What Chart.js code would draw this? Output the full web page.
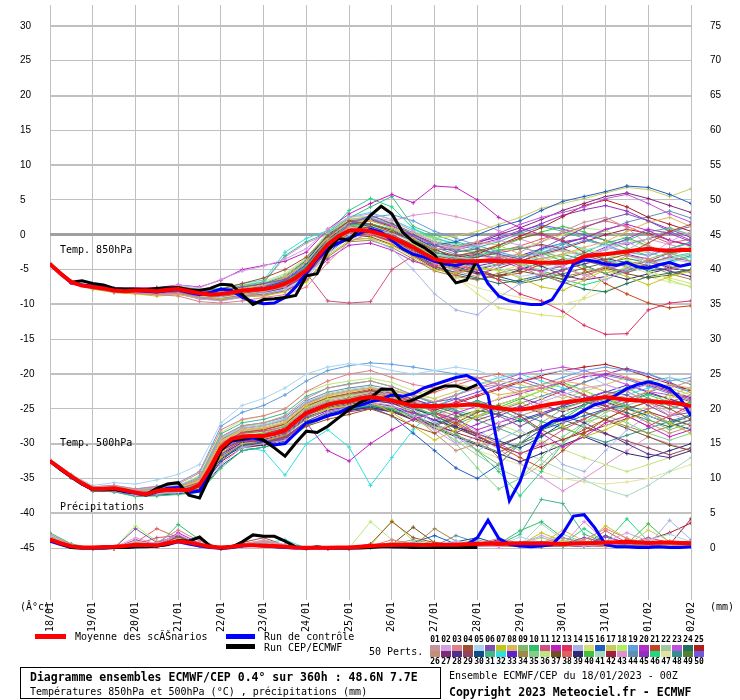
<!DOCTYPE html>
<html lang="fr">
<head>
<meta charset="UTF-8">
<title>Diagramme ensembles ECMWF/CEP</title>
<script src="https://cdn.jsdelivr.net/npm/chart.js"></script>
<style>
    body { margin: 0; background: #fff; }
    #wrap { position: relative; width: 740px; height: 700px; overflow: hidden;
        font-family: "DejaVu Sans Mono", monospace; font-size: 10px; color: #000; }
    #wrap canvas { position: absolute; left: 0; top: 0; }
    .t { position: absolute; white-space: pre; line-height: 12px; }
    .b { font-weight: bold; font-size: 11.5px; }
    .bar { position: absolute; height: 5px; }
    .sw { position: absolute; width: 10px; height: 6px; }
    .num { position: absolute; font-size: 8px; font-weight: bold; line-height: 10px; width: 11px; text-align: center; }
    #box { position: absolute; left: 20px; top: 667px; width: 419px; height: 30px; border: 1px solid #000; }
</style>
</head>
<body>
<div id="wrap">
    <canvas id="c" width="740" height="700"></canvas>
    <div class="t" style="left:60px;top:244px">Temp. 850hPa</div>
    <div class="t" style="left:60px;top:437px">Temp. 500hPa</div>
    <div class="t" style="left:60px;top:501px">Précipitations</div>
    <div class="t" style="left:20px;top:601px">(Â°c)</div>
    <div class="t" style="left:710px;top:601px">(mm)</div>

    <div class="bar" style="left:35px;top:634px;width:31px;background:#f00"></div>
    <div class="t" style="left:75px;top:631px">Moyenne des scĂŠnarios</div>
    <div class="bar" style="left:226px;top:634px;width:29px;background:#00f"></div>
    <div class="t" style="left:264px;top:631px">Run de contrôle</div>
    <div class="bar" style="left:226px;top:644px;width:29px;background:#000"></div>
    <div class="t" style="left:264px;top:642px">Run CEP/ECMWF</div>
    <div class="t" style="left:369px;top:646px">50 Perts.</div>
    <div id="swatches"></div>

    <div id="box"></div>
    <div class="t b" style="left:30px;top:671px">Diagramme ensembles ECMWF/CEP 0.4° sur 360h : 48.6N 7.7E</div>
    <div class="t" style="left:30px;top:686px">Températures 850hPa et 500hPa (°C) , précipitations (mm)</div>
    <div class="t" style="left:449px;top:670px">Ensemble ECMWF/CEP du 18/01/2023 - 00Z</div>
    <div class="t b" style="left:449px;top:686px">Copyright 2023 Meteociel.fr - ECMWF</div>
</div>
<script>
    // axis labels
    const dateLabels = ['18/01','19/01','20/01','21/01','22/01','23/01','24/01','25/01','26/01','27/01','28/01','29/01','30/01','31/01','01/02','02/02'];

    // forecast hours
    const hours6 = [0,6,12,18,24,30,36,42,48,54,60,66,72,78,84,90,96,102,108,114,120,126,132,138,144,150,156,162,168,174,180,186,192,198,204,210,216,222,228,234,240,246,252,258,264,270,276,282,288,294,300,306,312,318,324,330,336,342,348,354,360];
    const hours12 = [0,12,24,36,48,60,72,84,96,108,120,132,144,156,168,180,192,204,216,228,240,252,264,276,288,300,312,324,336,348,360];

    // 850 hPa temperature (°C)
    const mean850 = [-4.2,-5.6,-6.8,-7.3,-7.5,-7.7,-8.0,-8.1,-8.0,-8.0,-8.1,-7.9,-7.8,-8.1,-8.4,-8.6,-8.5,-8.3,-8.0,-7.9,-7.8,-7.5,-7.0,-6.2,-5.1,-3.2,-1.4,-0.2,0.6,0.7,0.5,0.1,-0.4,-1.1,-1.8,-2.7,-3.5,-3.8,-3.8,-3.8,-3.8,-3.7,-3.8,-3.8,-3.8,-3.9,-4.0,-4.0,-4.0,-3.8,-3.1,-2.9,-2.8,-2.6,-2.4,-2.2,-2.0,-2.2,-2.3,-2.2,-2.2];
    const ctrl850 = [-4.2,-5.6,-6.9,-7.2,-7.4,-7.6,-7.9,-8.0,-8.0,-8.1,-8.2,-8.0,-7.9,-8.3,-8.6,-8.3,-7.8,-8.0,-9.0,-9.6,-9.9,-9.8,-9.0,-7.5,-5.5,-3.5,-2.0,-1.2,-0.5,0.2,0.8,0.4,-0.8,-2.0,-2.8,-3.2,-3.8,-4.2,-4.4,-4.0,-4.2,-7.0,-8.8,-9.5,-9.8,-10.0,-10.0,-9.3,-7.0,-4.2,-3.6,-3.8,-4.2,-4.4,-4.0,-4.6,-4.8,-4.3,-4.0,-4.5,-4.2];
    const hres850 = [-4.2,-5.5,-6.8,-6.6,-7.0,-7.2,-7.7,-7.8,-7.8,-7.9,-7.7,-7.6,-7.6,-7.9,-8.0,-7.7,-7.1,-7.2,-8.6,-10.0,-9.3,-9.2,-9.0,-8.7,-5.9,-5.6,-2.3,-0.5,-0.8,1.0,2.8,4.1,3.0,0.4,-1.0,-1.8,-2.9,-5.0,-6.9,-6.5,-3.6];

    // 500 hPa temperature (°C)
    const mean500 = [-32.5,-33.6,-34.7,-35.7,-36.5,-36.5,-36.4,-36.7,-37.0,-37.3,-36.8,-36.6,-36.6,-36.7,-35.9,-33.5,-30.6,-29.3,-29.0,-28.9,-28.9,-28.6,-28.1,-26.8,-25.6,-25.0,-24.4,-24.1,-23.9,-23.5,-23.3,-23.5,-23.8,-24.2,-24.6,-24.6,-24.6,-24.5,-24.5,-24.4,-24.4,-24.7,-24.9,-25.1,-25.1,-24.9,-24.6,-24.3,-24.1,-23.9,-23.7,-23.5,-23.3,-23.5,-23.7,-23.8,-23.9,-24.0,-24.1,-24.3,-24.6];
    const ctrl500 = [-32.5,-33.7,-34.8,-35.8,-36.5,-36.6,-36.5,-36.9,-37.1,-37.4,-36.9,-36.4,-36.3,-37.0,-36.8,-34.0,-30.8,-29.6,-29.4,-29.2,-29.6,-30.2,-30.0,-28.5,-27.0,-26.6,-26.0,-25.6,-24.8,-24.5,-24.0,-23.6,-23.0,-23.2,-22.8,-22.0,-21.5,-21.0,-20.5,-20.2,-21.0,-23.0,-31.0,-38.2,-35.4,-31.0,-27.8,-26.8,-26.5,-26.1,-25.2,-24.4,-24.0,-23.0,-22.1,-21.5,-21.1,-21.5,-22.1,-23.5,-26.0];
    const hres500 = [-32.5,-33.7,-34.8,-35.8,-36.6,-36.6,-36.6,-36.8,-37.0,-37.3,-36.4,-35.8,-35.6,-37.4,-37.8,-34.5,-31.0,-29.5,-29.3,-28.9,-29.5,-30.6,-31.8,-29.9,-28.2,-28.4,-27.5,-26.3,-25.1,-24.1,-23.4,-22.2,-22.2,-24.2,-23.7,-23.0,-22.2,-21.7,-21.7,-22.2,-21.5];

    // precipitation (mm, right axis)
    const meanPrecip = [1.2,0.7,0.25,0.1,0.1,0.15,0.2,0.3,0.5,0.45,0.4,0.7,1.0,0.8,0.5,0.2,0.1,0.2,0.4,0.4,0.35,0.3,0.2,0.1,0.05,0.05,0.05,0.1,0.1,0.2,0.3,0.4,0.45,0.5,0.5,0.45,0.5,0.5,0.5,0.55,0.6,0.65,0.6,0.65,0.7,0.7,0.7,0.65,0.6,0.65,0.7,0.75,0.8,0.85,0.9,0.8,0.75,0.8,0.8,0.75,0.7];
    const ctrlPrecip = [1.0,0.5,0.1,0,0,0,0.1,0.1,0.2,0.3,0.3,0.5,0.9,0.6,0.3,0.1,0,0.1,0.3,0.4,0.3,0.2,0.1,0,0,0,0,0,0,0.1,0.2,0.3,0.2,0.2,0.3,0.2,0.2,0.3,0.4,0.5,1.5,4.0,1.4,0.5,0.3,0.2,0.3,0.5,2.1,4.6,4.8,2.9,0.5,0.2,0.2,0.1,0.1,0.2,0.1,0.1,0.2];
    const hresPrecip = [1.2,0.6,0.1,0,0,0,0.1,0.1,0.2,0.2,0.3,0.5,1.1,1.0,1.6,0.3,0,0.1,0.9,1.9,1.7,1.7,1.0,0.2,0,0.2,0,0,0,0,0.1,0.2,0.2,0.15,0.1,0.1,0.1,0.1,0.1,0.1,0.1];

    // the 50 perturbed members, 12-hourly
    const t850Members = [
        [-4.1,-6.9,-7.6,-8.2,-8.3,-8.5,-8.4,-9.0,-9.4,-8.8,-8.2,-7.5,-5.0,-1.0,1.2,0.8,-0.5,-2.0,-3.9,-5.2,-6.0,-4.2,-2.5,-1.0,0.5,1.8,2.5,1.0,-1.5,-3.0,-2.0],
        [-4.2,-6.7,-7.4,-7.8,-7.6,-7.9,-7.2,-7.6,-6.4,-5.2,-4.5,-3.5,-2.0,0.8,2.5,3.0,2.2,0.5,-1.2,-2.0,-1.5,-0.8,-1.5,-3.0,-4.5,-5.8,-6.5,-5.0,-3.0,-1.0,0.5],
        [-4.3,-6.8,-7.7,-8.1,-8.4,-8.6,-8.8,-9.6,-9.8,-9.5,-9.0,-8.6,-7.5,-4.0,-1.0,0.2,-0.8,-2.5,-4.2,-5.0,-4.0,-3.0,-3.8,-5.5,-7.0,-6.2,-4.5,-3.0,-3.5,-5.0,-4.2],
        [-4.2,-6.9,-7.4,-7.9,-7.8,-7.6,-7.4,-8.0,-7.8,-7.0,-6.2,-5.0,-3.2,-0.2,2.0,1.5,0.4,-0.8,-2.2,-3.0,-2.4,-1.5,-0.5,0.2,-0.8,-2.5,-3.6,-2.8,-1.2,0.5,1.5],
        [-4.1,-6.7,-7.6,-8.0,-8.2,-8.2,-8.0,-8.8,-9.0,-8.6,-8.4,-7.8,-6.0,-2.5,0.0,0.8,0.2,-1.0,-2.8,-3.2,-3.6,-4.8,-6.0,-5.5,-4.0,-2.2,-1.5,-2.8,-4.2,-3.5,-2.6],
        [-4.2,-6.8,-7.5,-8.1,-8.1,-8.3,-8.0,-8.2,-8.0,-7.5,-7.0,-6.4,-4.8,-1.5,1.5,2.8,1.6,0.0,-1.5,-2.5,-2.0,-2.8,-3.5,-2.0,-0.5,1.0,2.2,3.0,2.0,0.5,-0.8],
        [-4.2,-6.9,-7.8,-8.3,-8.5,-8.8,-8.6,-9.0,-9.2,-8.8,-8.8,-8.2,-6.8,-3.0,-0.8,-0.5,-1.5,-3.2,-5.0,-5.5,-4.8,-5.0,-6.2,-7.5,-8.0,-6.5,-5.0,-6.0,-7.2,-6.0,-5.2],
        [-4.2,-6.8,-7.4,-7.8,-7.9,-7.8,-7.5,-7.9,-8.2,-7.8,-7.2,-6.0,-3.8,-0.5,1.8,2.0,1.0,-0.5,-2.0,-1.8,-1.0,-1.5,-2.8,-3.5,-2.8,-1.8,-1.0,0.5,1.8,2.5,1.2],
        [-4.3,-6.8,-7.6,-8.0,-8.1,-8.2,-8.1,-8.6,-8.8,-8.2,-7.9,-7.2,-5.5,-1.8,0.5,0.2,-0.6,-1.5,-3.0,-4.0,-4.8,-4.2,-3.0,-2.5,-3.2,-4.5,-5.5,-4.8,-3.5,-2.5,-3.8],
        [-4.2,-6.7,-7.5,-7.9,-7.9,-8.0,-7.8,-8.3,-8.6,-8.1,-7.7,-6.8,-4.5,-0.8,1.4,1.6,0.8,-0.6,-2.4,-3.5,-3.0,-2.2,-1.8,-2.6,-3.8,-2.6,-1.2,-0.4,-1.6,-2.8,-1.8],
        [-4.2,-6.8,-7.6,-8.2,-8.3,-8.4,-8.3,-8.9,-9.2,-8.8,-8.5,-7.8,-5.5,-9.5,-9.8,-9.6,-5.0,-3.0,-4.5,-5.8,-4.0,-3.2,-4.5,-6.0,-5.2,-3.8,-4.4,-5.5,-4.0,-3.2,-3.8],
        [-4.2,-6.8,-7.4,-7.7,-7.6,-7.6,-7.2,-7.5,-6.5,-5.0,-4.4,-3.8,-2.5,0.8,3.0,4.5,5.8,4.6,7.0,6.8,5.0,2.5,1.0,0.0,-1.0,-0.5,0.8,1.5,0.6,-0.8,-1.5],
        [-4.2,-6.9,-7.6,-8.1,-8.2,-8.3,-8.2,-8.7,-8.9,-8.4,-8.0,-7.4,-5.8,-2.2,0.2,0.0,-1.0,-2.6,-4.0,-4.5,-5.0,-6.5,-8.5,-9.5,-11.0,-13.0,-14.3,-14.2,-10.8,-9.8,-9.5],
        [-4.3,-6.9,-7.7,-8.3,-8.4,-8.6,-8.5,-9.2,-9.5,-9.0,-8.6,-7.9,-6.2,-2.8,-0.4,-0.6,-2.0,-5.0,-8.5,-10.8,-11.5,-9.0,-7.0,-5.5,-4.0,-3.2,-2.0,-1.0,-2.5,-3.5,-4.0],
        [-4.2,-6.7,-7.5,-8.0,-8.0,-8.2,-8.0,-8.5,-8.7,-8.3,-8.0,-7.3,-5.6,-2.0,0.3,0.0,-1.2,-2.8,-4.0,-6.0,-8.5,-10.5,-11.0,-11.5,-11.8,-9.0,-6.0,-4.5,-5.5,-6.2,-7.0],
        [-4.2,-6.8,-7.5,-8.0,-8.0,-8.1,-7.9,-8.5,-8.6,-8.0,-7.6,-6.6,-4.2,-0.5,1.8,1.2,0.2,-0.8,-1.5,-1.0,0.0,1.2,2.0,3.5,4.8,5.5,6.2,7.0,6.8,5.8,4.5],
        [-4.1,-6.7,-7.4,-7.8,-7.9,-8.0,-7.7,-8.1,-8.2,-7.6,-7.2,-6.2,-4.0,-0.2,2.2,2.0,1.0,0.2,-0.5,-0.2,0.5,1.5,2.5,3.8,4.5,5.2,6.0,6.8,6.5,5.5,6.6],
        [-4.2,-6.8,-7.6,-8.1,-8.2,-8.4,-8.3,-8.9,-9.0,-8.5,-8.1,-7.2,-5.0,-1.2,1.0,1.3,0.5,-1.3,-3.2,-4.2,-4.6,-5.2,-4.4,-3.8,-3.0,-2.0,-2.8,-3.6,-5.0,-6.5,-7.5],
        [-4.2,-6.8,-7.5,-7.9,-8.0,-8.1,-7.7,-8.2,-8.3,-7.7,-7.3,-6.5,-4.4,-0.9,1.6,2.5,2.9,2.0,0.5,-0.5,-1.5,-2.5,-3.2,-2.6,-1.8,-0.8,-1.5,-2.5,-3.0,-2.0,-1.2],
        [-4.3,-6.9,-7.7,-8.2,-8.3,-8.5,-8.4,-9.1,-9.3,-8.9,-8.6,-8.0,-6.5,-3.5,-1.5,-1.2,-2.2,-3.8,-4.6,-3.8,-2.8,-3.5,-4.8,-5.2,-4.5,-3.0,-1.8,-0.6,0.8,0.2,-1.0],
        [-4.2,-6.8,-7.5,-8.0,-8.1,-8.3,-8.1,-8.6,-8.8,-8.3,-7.9,-7.0,-4.8,-1.4,0.8,0.5,-0.6,-2.2,-3.5,-4.2,-5.0,-6.0,-5.5,-4.2,-3.5,-5.0,-7.0,-8.5,-9.8,-10.5,-10.2],
        [-4.2,-6.7,-7.5,-7.9,-7.9,-8.0,-7.7,-8.1,-8.0,-7.4,-6.9,-5.8,-3.5,0.2,2.2,2.5,1.5,0.2,-1.0,-1.8,-2.5,-3.5,-4.0,-3.0,-2.2,-2.8,-3.5,-2.2,-0.5,0.8,0.0],
        [-4.2,-6.8,-7.6,-8.0,-8.1,-8.2,-8.0,-8.4,-8.5,-7.9,-7.5,-6.4,-4.0,-0.3,1.9,2.3,1.3,-0.2,-1.6,-2.0,-1.0,0.2,1.5,2.5,3.2,4.0,5.2,5.8,4.5,3.0,1.8],
        [-4.2,-6.9,-7.6,-8.1,-8.2,-8.4,-8.2,-8.7,-8.9,-8.5,-8.2,-7.5,-5.6,-2.3,0.0,0.4,-0.5,-2.5,-4.5,-5.5,-6.2,-7.0,-6.5,-5.8,-6.8,-7.8,-8.2,-7.0,-6.0,-5.5,-5.0],
        [-4.2,-6.8,-7.5,-8.0,-8.0,-8.1,-7.8,-8.3,-8.4,-7.9,-7.5,-6.6,-4.3,-0.6,1.5,1.6,0.6,-1.0,-2.5,-3.2,-2.8,-1.5,-0.2,1.0,2.6,4.2,5.0,4.0,2.5,1.5,0.5],
        [-4.2,-6.8,-7.6,-8.1,-8.2,-8.3,-8.1,-8.7,-8.9,-8.4,-8.0,-7.3,-5.2,-1.6,0.6,0.9,-0.2,-1.8,-3.6,-4.4,-3.8,-3.2,-2.8,-3.5,-4.8,-5.8,-5.0,-4.2,-3.8,-4.5,-5.5],
        [-4.1,-6.7,-7.5,-8.0,-8.0,-8.2,-7.9,-8.3,-8.4,-7.8,-7.4,-6.5,-4.4,-0.8,1.6,2.0,1.2,0.0,-1.2,-1.8,-1.2,0.0,1.0,2.2,3.5,4.5,5.5,6.0,5.2,4.2,3.2],
        [-4.2,-6.9,-7.7,-8.2,-8.3,-8.5,-8.3,-8.8,-9.0,-8.6,-8.3,-7.6,-5.9,-2.6,-0.2,0.2,-0.9,-2.8,-4.6,-5.4,-5.0,-4.2,-3.6,-4.5,-5.8,-6.5,-6.0,-5.0,-4.4,-5.2,-6.0],
        [-4.2,-6.8,-7.5,-8.0,-8.1,-8.2,-8.0,-8.5,-8.6,-8.1,-7.7,-6.9,-4.7,-1.0,1.2,1.0,0.0,-1.4,-3.0,-3.6,-3.2,-2.6,-2.0,-1.4,-2.0,-3.0,-3.8,-4.6,-3.8,-2.6,-2.0],
        [-4.2,-6.8,-7.5,-7.9,-8.0,-8.0,-7.8,-8.2,-8.2,-7.6,-7.1,-6.0,-3.7,0.0,2.0,2.2,1.3,-0.2,-2.0,-3.5,-5.0,-6.0,-6.8,-6.0,-5.0,-4.2,-3.4,-4.0,-5.2,-4.8,-4.0],
        [-4.2,-6.7,-7.4,-7.8,-7.8,-7.9,-7.6,-8.0,-8.0,-7.3,-6.8,-3.0,-1.0,0.3,2.4,4.0,5.5,1.2,0.0,-1.0,-1.8,-1.0,0.2,1.2,0.5,-0.5,-1.5,-0.8,0.4,1.0,0.0],
        [-4.2,-6.8,-7.3,-7.7,-7.7,-7.8,-7.4,-7.8,-7.7,-7.0,-6.5,-2.5,-0.5,0.6,2.6,3.2,2.2,0.8,-0.6,-1.2,-2.0,-2.8,-3.2,-2.2,-1.2,-2.0,-3.5,-4.5,-5.0,-4.0,-3.2],
        [-4.2,-6.8,-7.6,-8.1,-8.2,-8.3,-8.2,-8.7,-8.8,-8.3,-7.9,-7.1,-5.0,-1.3,0.9,0.6,-0.4,-2.0,-3.5,-4.0,-4.5,-3.8,-3.0,-2.0,-1.2,-0.5,-1.5,-2.8,-3.5,-4.8,-5.2],
        [-4.3,-6.9,-7.7,-8.2,-8.4,-8.6,-8.5,-9.2,-9.4,-9.0,-8.7,-8.1,-6.6,-3.2,-1.0,-0.8,-1.8,-3.5,-5.2,-6.0,-6.5,-5.5,-4.8,-5.2,-6.0,-5.4,-4.6,-3.8,-4.4,-5.6,-6.4],
        [-4.2,-6.8,-7.5,-8.0,-8.0,-8.1,-7.9,-8.4,-8.5,-8.0,-7.6,-6.7,-4.6,-0.9,1.3,1.4,0.4,-1.2,-2.8,-3.4,-3.6,-3.8,-4.2,-4.6,-4.0,-3.2,-2.6,-3.0,-3.8,-3.4,-2.8],
        [-4.2,-6.7,-7.4,-7.8,-7.7,-7.8,-7.5,-7.9,-7.9,-7.2,-6.7,-5.6,-3.3,0.4,2.5,2.7,1.8,0.6,-0.8,-1.4,-1.8,-2.2,-2.0,-1.0,0.0,1.0,0.6,-0.6,-1.8,-2.4,-1.6],
        [-4.2,-6.9,-7.6,-8.1,-8.2,-8.4,-8.3,-8.8,-9.0,-8.6,-8.2,-7.5,-5.7,-2.2,0.0,-0.3,-1.4,-3.0,-4.8,-5.8,-6.4,-5.8,-5.2,-5.8,-6.4,-5.5,-4.8,-5.6,-6.2,-5.8,-5.0],
        [-4.2,-6.8,-7.5,-8.0,-8.1,-8.2,-8.0,-8.5,-8.6,-8.1,-7.8,-7.0,-4.9,-1.2,1.1,1.2,0.1,-1.6,-3.2,-3.8,-3.2,-2.4,-1.6,-0.6,0.2,1.2,2.0,1.2,0.0,-1.2,-0.6],
        [-4.2,-6.8,-7.6,-8.1,-8.2,-8.4,-8.2,-8.8,-9.0,-8.6,-8.3,-7.6,-5.8,-2.0,0.3,0.6,-0.5,-2.2,-3.8,-4.6,-5.4,-6.0,-5.0,-4.0,-3.6,-4.4,-5.6,-6.4,-5.6,-4.8,-5.2],
        [-4.2,-6.7,-7.5,-7.9,-8.0,-8.0,-7.8,-8.2,-8.3,-7.7,-7.2,-6.2,-3.9,-0.2,2.0,2.3,1.5,0.1,-1.4,-2.2,-2.6,-1.8,-0.6,0.4,1.2,0.4,-0.8,-2.0,-3.0,-2.0,-1.0],
        [-4.2,-6.8,-7.5,-8.0,-8.1,-8.2,-8.0,-8.5,-8.7,-8.2,-7.8,-6.9,-4.7,-1.1,1.1,1.0,0.0,-1.5,-3.0,-3.4,-3.0,-3.6,-4.4,-5.0,-4.4,-3.6,-2.8,-2.0,-2.6,-3.4,-2.8],
        [-4.2,-6.9,-7.7,-8.2,-8.3,-8.5,-8.4,-9.0,-9.2,-8.7,-8.4,-7.7,-5.9,-2.4,-0.1,0.1,-1.0,-2.7,-4.3,-5.0,-5.6,-4.8,-3.8,-2.8,-2.0,-1.0,0.0,0.8,0.2,-0.8,-1.6],
        [-4.2,-6.8,-7.4,-7.8,-7.8,-7.9,-7.6,-8.0,-8.0,-7.4,-6.9,-3.2,-1.2,0.1,2.2,2.6,2.0,2.8,3.2,2.6,1.8,0.6,-0.6,-1.6,-2.4,-3.0,-2.2,-1.2,-0.6,-1.4,-2.2],
        [-4.2,-6.8,-7.5,-8.0,-8.0,-8.1,-7.9,-8.4,-8.4,-7.8,-7.3,-6.3,-4.0,-0.4,1.9,2.1,1.0,-0.4,-1.8,-2.8,-3.6,-4.4,-3.8,-2.6,-1.4,-0.4,0.6,1.8,2.6,3.4,2.4],
        [-4.2,-6.8,-7.6,-8.1,-8.1,-8.3,-8.1,-8.6,-8.7,-8.2,-7.8,-6.9,-4.6,-0.9,1.3,1.5,0.7,-0.7,-2.0,-2.2,-1.4,-0.6,0.4,1.6,2.8,3.6,4.2,3.4,2.0,0.8,-0.4],
        [-4.2,-6.7,-7.4,-7.8,-7.8,-7.9,-7.6,-8.1,-8.1,-7.5,-7.0,-6.0,-3.6,0.2,3.5,5.2,4.0,0.9,-0.4,-1.4,-2.2,-3.0,-4.2,-5.4,-6.4,-7.2,-6.4,-5.2,-4.2,-3.2,-2.6],
        [-4.3,-6.9,-7.7,-8.2,-8.3,-8.5,-8.4,-9.0,-9.1,-8.6,-8.2,-7.4,-5.4,-1.8,0.4,0.2,-1.0,-2.8,-4.6,-6.2,-7.6,-8.4,-9.0,-9.6,-10.0,-9.2,-8.0,-7.0,-6.0,-6.8,-7.4],
        [-4.2,-6.8,-7.5,-8.0,-8.1,-8.2,-8.0,-8.5,-8.6,-8.0,-7.6,-6.8,-4.6,-1.0,1.2,1.4,0.5,-1.0,-2.6,-3.0,-2.6,-3.4,-4.0,-3.4,-2.8,-3.6,-4.6,-5.4,-4.6,-3.8,-3.0],
        [-4.2,-6.9,-7.6,-8.1,-8.2,-8.4,-8.2,-8.8,-8.9,-8.4,-8.0,-7.3,-5.3,-1.7,0.5,0.3,-0.8,-2.4,-4.0,-4.8,-5.6,-6.4,-7.0,-6.4,-5.6,-4.8,-4.0,-3.4,-4.0,-4.6,-5.4],
        [-4.2,-6.8,-7.5,-7.9,-7.9,-8.0,-7.7,-8.2,-8.2,-7.6,-7.1,-6.1,-3.8,0.0,2.1,2.4,1.6,0.3,-1.0,-1.6,-1.0,-0.4,0.6,1.4,0.8,0.0,-0.8,-1.4,-0.6,0.4,1.2]
    ];

    const t500Members = [
        [-32.4,-34.6,-36.3,-36.2,-36.8,-36.5,-36.2,-35.0,-29.0,-27.5,-27.0,-26.0,-23.5,-22.0,-21.5,-21.0,-21.8,-23.0,-24.0,-23.0,-22.0,-21.5,-23.0,-25.5,-27.0,-25.0,-23.0,-22.5,-24.0,-26.0,-25.0],
        [-32.6,-34.9,-36.7,-36.8,-37.4,-37.2,-37.0,-36.8,-33.0,-30.5,-30.0,-29.5,-27.0,-25.5,-24.8,-24.0,-24.5,-26.0,-28.0,-30.0,-29.0,-27.0,-25.5,-24.0,-23.0,-22.0,-21.5,-22.5,-24.0,-25.5,-27.0],
        [-32.3,-34.5,-36.2,-36.0,-36.5,-36.2,-35.8,-34.2,-28.0,-26.5,-26.0,-25.0,-22.5,-21.0,-20.0,-19.5,-20.5,-21.5,-22.0,-21.0,-20.5,-21.5,-22.5,-22.0,-21.0,-20.0,-19.5,-20.5,-21.5,-22.0,-21.0],
        [-32.5,-34.8,-36.6,-36.6,-37.2,-37.0,-36.8,-36.2,-31.5,-29.5,-29.8,-29.0,-27.5,-26.5,-25.8,-25.0,-26.0,-27.5,-28.5,-27.0,-25.5,-24.5,-26.0,-28.0,-29.5,-28.0,-26.5,-25.0,-24.0,-25.0,-26.5],
        [-32.2,-34.4,-36.0,-35.6,-35.8,-35.2,-34.4,-33.0,-27.0,-24.5,-23.5,-22.0,-20.0,-19.0,-18.5,-18.8,-19.5,-20.0,-19.5,-19.0,-19.5,-20.5,-21.0,-20.0,-19.5,-20.0,-21.5,-22.5,-21.5,-20.5,-21.0],
        [-32.5,-34.7,-36.5,-36.5,-37.0,-36.9,-36.7,-36.0,-30.8,-29.2,-29.0,-28.5,-26.0,-24.5,-24.0,-23.5,-24.0,-24.5,-24.0,-23.5,-24.5,-26.0,-27.5,-26.0,-24.5,-23.5,-22.5,-23.0,-24.5,-26.0,-25.5],
        [-32.6,-34.8,-36.6,-36.7,-37.3,-37.1,-36.9,-36.4,-32.0,-30.0,-29.6,-28.8,-26.5,-25.0,-24.5,-24.0,-25.5,-27.5,-29.5,-28.0,-26.0,-25.0,-24.0,-25.5,-27.5,-29.0,-28.0,-26.5,-25.5,-27.0,-28.5],
        [-32.4,-34.6,-36.4,-36.3,-36.9,-36.6,-36.4,-35.4,-29.8,-28.0,-27.8,-27.0,-24.5,-23.0,-22.5,-22.0,-22.5,-23.0,-22.0,-21.5,-22.0,-23.0,-22.5,-21.5,-21.0,-21.5,-22.5,-23.5,-22.5,-21.5,-22.0],
        [-32.5,-34.7,-36.5,-36.4,-37.0,-36.8,-36.6,-35.8,-30.5,-29.0,-28.5,-27.5,-25.0,-24.0,-23.5,-23.0,-23.5,-24.5,-26.0,-28.5,-31.0,-33.0,-30.0,-27.0,-25.0,-24.0,-23.5,-24.5,-26.5,-28.0,-27.0],
        [-32.6,-34.9,-36.8,-36.9,-37.6,-37.5,-37.3,-37.0,-33.5,-31.0,-30.5,-29.8,-27.5,-26.0,-25.0,-24.5,-25.0,-26.0,-25.5,-24.5,-24.0,-25.0,-26.5,-28.0,-26.5,-24.5,-23.0,-22.0,-23.5,-25.0,-24.0],
        [-32.4,-34.6,-36.4,-36.4,-37.0,-36.8,-36.5,-35.6,-30.0,-28.5,-28.2,-27.6,-25.2,-24.0,-23.4,-22.8,-23.2,-24.0,-25.5,-27.0,-28.5,-30.0,-31.5,-30.0,-28.0,-26.5,-25.0,-24.0,-23.5,-24.5,-25.5],
        [-32.5,-34.8,-36.6,-36.5,-37.1,-36.9,-36.7,-36.0,-31.0,-29.5,-29.5,-29.0,-27.0,-31.0,-32.5,-30.0,-28.0,-26.5,-25.5,-26.5,-28.0,-27.0,-26.0,-28.5,-30.5,-29.0,-27.0,-26.0,-27.5,-29.0,-28.0],
        [-32.5,-34.7,-36.5,-36.4,-37.0,-36.8,-36.6,-35.8,-30.4,-28.8,-28.6,-27.8,-25.4,-24.2,-23.6,-23.0,-23.6,-24.8,-25.0,-24.0,-23.0,-22.0,-21.0,-20.5,-21.5,-23.0,-24.5,-26.0,-27.5,-26.0,-24.5],
        [-32.3,-34.5,-36.3,-36.2,-36.7,-36.4,-36.0,-35.0,-29.2,-27.8,-27.4,-26.5,-24.0,-23.0,-22.4,-22.0,-23.0,-25.0,-27.0,-29.0,-31.0,-29.5,-28.0,-30.0,-33.0,-34.0,-31.0,-28.0,-26.0,-27.0,-28.5],
        [-32.5,-34.7,-36.5,-36.5,-37.1,-36.9,-36.8,-36.2,-31.2,-29.5,-29.2,-28.5,-26.0,-25.0,-24.6,-24.2,-24.8,-26.5,-28.0,-27.0,-25.0,-23.5,-22.5,-23.5,-25.0,-26.5,-27.5,-26.0,-24.5,-23.5,-22.5],
        [-32.6,-34.9,-36.7,-36.8,-37.4,-37.2,-37.0,-36.6,-32.5,-30.0,-29.8,-29.0,-26.8,-25.5,-24.8,-24.8,-26.0,-28.5,-31.0,-33.5,-35.0,-33.0,-30.0,-28.0,-27.0,-26.0,-25.0,-24.5,-25.5,-27.0,-26.0],
        [-32.4,-34.6,-36.4,-36.3,-36.9,-36.6,-36.3,-35.3,-29.6,-28.0,-27.6,-26.8,-24.4,-23.2,-22.6,-22.0,-22.2,-23.0,-23.5,-22.5,-21.5,-21.0,-21.5,-22.5,-23.5,-22.5,-21.5,-20.5,-21.0,-22.0,-23.0],
        [-32.5,-34.7,-36.5,-36.4,-37.0,-36.8,-36.6,-35.7,-30.2,-28.6,-28.4,-27.4,-24.8,-23.6,-23.2,-22.8,-23.4,-24.4,-25.4,-26.4,-25.4,-24.4,-23.4,-22.4,-21.4,-22.4,-23.8,-25.0,-24.0,-23.0,-22.0],
        [-32.3,-34.5,-36.2,-36.0,-36.5,-36.1,-35.6,-34.0,-27.5,-25.5,-24.5,-23.0,-21.0,-19.5,-18.8,-18.4,-18.6,-19.0,-19.5,-20.0,-20.5,-21.5,-22.0,-21.5,-20.5,-19.5,-19.0,-19.5,-20.0,-21.0,-20.5],
        [-32.5,-34.8,-36.6,-36.6,-37.2,-37.0,-36.8,-36.3,-31.8,-30.0,-29.8,-29.2,-26.8,-25.4,-24.8,-24.4,-24.8,-25.6,-26.6,-25.6,-24.6,-23.6,-22.8,-22.0,-21.2,-20.4,-20.0,-20.6,-21.6,-22.6,-23.6],
        [-32.5,-34.7,-36.5,-36.4,-36.9,-36.7,-36.5,-35.6,-30.0,-28.4,-28.0,-27.2,-24.6,-23.4,-22.8,-22.2,-22.8,-24.0,-25.6,-27.2,-28.8,-30.4,-32.0,-33.5,-31.0,-28.5,-26.5,-25.0,-24.0,-23.0,-24.0],
        [-32.4,-34.6,-36.4,-36.3,-36.8,-36.6,-36.3,-35.4,-29.8,-28.2,-27.9,-27.1,-24.7,-23.5,-23.0,-22.6,-23.6,-25.6,-27.6,-29.6,-31.6,-33.6,-35.0,-33.0,-30.0,-27.5,-25.5,-24.5,-23.5,-24.5,-25.5],
        [-32.5,-34.7,-36.5,-36.4,-37.0,-36.8,-36.6,-35.9,-30.6,-29.0,-28.8,-28.0,-25.6,-24.4,-23.9,-23.4,-23.9,-24.6,-24.0,-23.0,-22.0,-21.0,-20.0,-19.5,-19.0,-19.5,-20.5,-21.5,-22.5,-23.0,-22.0],
        [-32.6,-34.8,-36.6,-36.6,-37.2,-37.0,-36.9,-36.4,-32.0,-30.2,-29.9,-29.2,-26.9,-25.6,-25.0,-24.6,-25.2,-26.2,-27.2,-26.2,-25.2,-25.8,-26.8,-25.8,-24.8,-24.0,-24.6,-25.6,-26.6,-27.6,-26.6],
        [-32.5,-34.7,-36.5,-36.4,-37.0,-36.8,-36.6,-35.8,-30.4,-28.8,-28.6,-27.8,-25.4,-24.2,-23.6,-23.0,-23.4,-24.2,-25.2,-24.2,-23.2,-22.2,-21.2,-20.2,-19.5,-19.0,-18.6,-19.4,-20.4,-21.4,-22.4],
        [-32.4,-34.6,-36.3,-36.2,-36.8,-36.5,-36.2,-35.2,-29.4,-27.8,-27.4,-26.6,-24.2,-23.0,-22.4,-22.0,-23.5,-26.0,-28.5,-31.0,-30.0,-28.0,-26.0,-25.0,-24.0,-23.0,-24.0,-25.5,-27.0,-28.5,-27.5],
        [-32.5,-34.8,-36.6,-36.6,-37.2,-37.0,-36.9,-36.4,-32.0,-30.2,-30.0,-29.4,-27.2,-26.0,-25.4,-25.0,-25.4,-26.4,-27.4,-26.4,-25.4,-24.4,-23.4,-24.4,-25.4,-24.4,-23.4,-22.4,-21.4,-22.4,-23.4],
        [-32.5,-34.7,-36.5,-36.5,-37.1,-36.9,-36.7,-36.1,-31.2,-29.6,-29.4,-28.6,-26.2,-25.0,-24.4,-23.8,-24.2,-25.0,-26.0,-27.5,-29.0,-30.5,-29.0,-27.5,-26.0,-27.0,-28.5,-30.0,-31.5,-32.0,-31.0],
        [-32.4,-34.6,-36.4,-36.4,-37.0,-36.7,-36.5,-35.6,-30.0,-28.4,-28.0,-27.2,-24.8,-23.6,-23.0,-22.4,-22.8,-23.6,-24.6,-25.6,-26.6,-25.6,-24.6,-25.6,-26.6,-27.6,-28.6,-29.6,-30.6,-31.6,-30.6],
        [-32.6,-34.9,-36.8,-36.9,-37.5,-37.4,-37.2,-36.9,-33.2,-31.0,-30.5,-29.6,-27.4,-26.0,-25.2,-24.6,-25.0,-25.6,-26.6,-27.6,-28.6,-29.6,-30.6,-29.0,-27.0,-25.0,-24.0,-25.0,-26.0,-27.0,-28.0],
        [-32.4,-34.5,-36.3,-36.2,-36.7,-36.4,-36.1,-34.8,-28.6,-27.0,-26.5,-25.6,-23.2,-22.0,-21.4,-21.0,-21.8,-23.0,-24.2,-25.4,-26.6,-27.8,-29.0,-27.5,-26.0,-24.5,-23.0,-22.0,-21.0,-20.5,-21.5],
        [-32.5,-34.7,-36.5,-36.4,-37.0,-36.8,-36.6,-36.0,-31.5,-30.5,-31.0,-34.5,-30.0,-28.0,-30.5,-36.0,-32.0,-28.0,-25.0,-23.0,-21.5,-20.5,-20.0,-21.0,-22.0,-23.0,-24.0,-23.0,-22.0,-21.5,-22.5],
        [-32.5,-34.8,-36.6,-36.6,-37.2,-37.0,-36.8,-36.2,-31.6,-29.8,-29.6,-28.8,-26.4,-25.2,-24.6,-24.2,-24.6,-25.6,-26.6,-27.6,-28.6,-27.6,-26.6,-25.6,-24.6,-23.6,-22.6,-21.6,-22.6,-23.6,-24.6],
        [-32.4,-34.6,-36.4,-36.3,-36.9,-36.6,-36.4,-35.4,-29.6,-28.0,-27.8,-27.0,-24.6,-23.4,-22.8,-22.4,-23.0,-24.0,-25.0,-26.0,-29.0,-32.0,-30.0,-28.0,-26.5,-25.5,-26.5,-27.5,-28.5,-27.5,-26.5],
        [-32.5,-34.7,-36.5,-36.4,-37.0,-36.8,-36.6,-35.9,-30.6,-29.0,-28.8,-28.0,-25.6,-24.4,-23.9,-23.3,-23.9,-25.0,-27.0,-30.0,-33.5,-36.5,-35.0,-32.0,-29.0,-27.0,-26.0,-27.0,-28.5,-29.5,-28.5],
        [-32.3,-34.5,-36.2,-36.1,-36.6,-36.3,-36.0,-34.6,-28.4,-26.6,-26.0,-25.0,-22.6,-21.5,-21.0,-20.6,-21.2,-22.4,-23.6,-24.8,-26.0,-27.2,-28.4,-29.6,-30.8,-32.0,-33.0,-34.0,-33.0,-32.0,-31.0],
        [-32.5,-34.7,-36.5,-36.5,-37.1,-36.9,-36.7,-36.1,-31.0,-29.4,-29.2,-28.4,-26.0,-24.8,-24.2,-23.6,-24.2,-25.4,-26.6,-27.8,-29.0,-30.2,-29.0,-27.8,-26.6,-25.4,-26.6,-27.8,-29.0,-30.2,-31.0],
        [-32.4,-34.6,-36.4,-36.3,-36.9,-36.7,-36.4,-35.5,-29.9,-28.3,-28.0,-27.2,-24.8,-23.6,-23.0,-22.4,-22.8,-23.6,-22.6,-21.6,-20.6,-20.0,-21.0,-22.0,-23.0,-24.0,-25.0,-26.0,-25.0,-24.0,-23.0],
        [-32.6,-34.8,-36.7,-36.7,-37.3,-37.1,-36.9,-36.5,-32.2,-30.4,-30.2,-29.4,-27.0,-25.8,-25.2,-24.8,-25.4,-26.6,-27.8,-29.0,-30.2,-31.4,-32.6,-31.4,-30.2,-29.0,-30.2,-31.4,-32.0,-31.0,-30.0],
        [-32.5,-34.7,-36.5,-36.4,-37.0,-36.8,-36.6,-35.8,-30.4,-28.8,-28.6,-27.8,-25.4,-24.2,-23.6,-23.0,-23.6,-24.8,-26.0,-27.2,-26.0,-24.8,-23.6,-22.4,-21.2,-22.4,-23.6,-24.8,-26.0,-27.2,-26.0],
        [-32.4,-34.6,-36.3,-36.2,-36.8,-36.5,-36.2,-35.2,-29.2,-27.6,-27.2,-26.4,-24.0,-22.8,-22.2,-21.8,-22.6,-24.0,-25.4,-26.8,-28.2,-29.6,-31.0,-32.4,-33.8,-35.2,-36.6,-37.5,-36.0,-34.0,-32.0],
        [-32.6,-34.9,-36.7,-36.8,-37.4,-37.2,-37.0,-36.6,-32.6,-30.6,-30.2,-29.4,-27.0,-25.8,-25.2,-24.8,-25.4,-26.4,-27.4,-28.4,-29.4,-30.4,-31.4,-30.4,-29.4,-28.4,-27.4,-26.4,-25.4,-26.4,-27.4],
        [-32.5,-34.7,-36.5,-36.4,-37.0,-36.8,-36.6,-35.7,-30.2,-28.6,-28.2,-27.4,-25.0,-23.8,-23.2,-22.6,-23.0,-23.8,-24.8,-26.8,-28.8,-30.8,-32.8,-34.8,-36.8,-35.0,-33.0,-31.0,-29.0,-30.0,-31.0],
        [-32.4,-34.6,-36.4,-36.3,-36.8,-36.5,-36.2,-35.0,-29.0,-27.4,-27.0,-26.2,-23.8,-22.6,-22.0,-21.6,-22.2,-23.2,-24.2,-25.2,-26.2,-25.2,-24.2,-23.2,-22.2,-21.2,-20.2,-20.8,-21.8,-22.8,-23.8],
        [-32.5,-34.8,-36.6,-36.6,-37.2,-37.0,-36.8,-36.2,-31.6,-29.8,-29.6,-28.8,-26.4,-25.2,-24.6,-24.2,-24.8,-26.0,-27.2,-28.4,-27.2,-26.0,-24.8,-23.6,-22.4,-21.2,-20.0,-19.2,-20.0,-21.2,-22.4],
        [-32.5,-34.7,-36.5,-36.5,-37.1,-36.9,-36.7,-36.0,-30.8,-29.2,-29.0,-28.2,-25.8,-24.6,-24.0,-23.5,-24.0,-25.0,-26.0,-28.5,-31.0,-34.0,-37.5,-34.0,-30.0,-27.0,-25.0,-24.0,-23.0,-24.0,-25.0],
        [-32.4,-34.6,-36.4,-36.3,-36.9,-36.6,-36.4,-35.5,-29.8,-28.2,-27.9,-27.1,-24.7,-23.5,-23.0,-22.5,-23.5,-25.5,-27.5,-29.5,-31.0,-32.0,-33.0,-34.0,-35.0,-35.5,-35.8,-35.5,-35.0,-34.0,-33.0],
        [-32.5,-34.7,-36.5,-36.4,-37.0,-36.8,-36.6,-35.9,-30.6,-29.0,-28.8,-28.0,-25.6,-24.4,-23.9,-23.3,-23.8,-24.8,-25.8,-24.8,-23.8,-24.8,-25.8,-26.8,-27.8,-28.8,-29.8,-28.8,-27.8,-26.8,-25.8],
        [-32.6,-34.8,-36.6,-36.7,-37.3,-37.1,-36.9,-36.4,-32.0,-30.2,-30.0,-29.2,-26.8,-25.6,-25.0,-24.6,-25.2,-26.4,-27.6,-28.8,-30.0,-31.2,-30.0,-28.8,-27.6,-26.4,-25.2,-24.0,-22.8,-23.6,-24.4],
        [-32.4,-34.6,-36.3,-36.2,-36.8,-36.5,-36.2,-35.3,-29.4,-27.8,-27.4,-26.6,-24.2,-23.0,-22.4,-22.0,-22.6,-23.6,-24.6,-23.6,-22.6,-21.6,-20.6,-21.6,-22.6,-23.6,-24.6,-23.6,-22.6,-21.6,-22.6]
    ];

    const precipMembers = [
        [1.5,0.3,0,0,0.8,0.2,1.2,0.4,0,0.6,0.9,0.3,0,0,0,0.2,0.8,0.4,0.2,0.6,1.2,0.5,0.3,0.8,1.5,0.6,0.2,0.4,1.0,0.5,0.3],
        [1.2,0.2,0,0.1,1.5,0.6,2.0,0.5,0,0.4,1.2,0.5,0,0,0,0.1,0.5,0.3,0.5,0.8,0.3,0.2,0.6,1.8,0.8,0.4,0.9,2.2,1.0,0.4,0.6],
        [2.0,0.5,0,0,0.4,0.8,2.6,1.0,0,0.3,0.6,0.2,0,0,0,0.3,1.2,0.6,0.3,0.2,0.6,1.4,0.7,0.3,0.5,1.2,2.8,1.4,0.6,0.4,0.8],
        [1.0,0.2,0,0,0.6,0.3,1.6,0.5,0,0.8,1.5,0.4,0,0,0.1,0.6,3.8,1.5,0.8,0.5,0.3,0.8,0.5,0.2,0.4,0.6,0.3,0.5,0.8,0.4,0.2],
        [1.8,0.4,0,0,1.0,0.5,1.4,0.6,0,0.5,0.8,0.3,0,0,0,0.2,0.6,0.9,0.4,1.0,0.6,0.3,1.6,0.8,0.5,0.3,0.6,0.4,1.2,2.0,0.9],
        [1.4,0.3,0,0,2.8,0.8,1.8,0.6,0,0.4,0.7,0.2,0,0,0,0.1,0.4,0.2,0.6,0.3,0.8,0.5,0.4,0.9,0.6,1.5,0.8,0.4,0.3,0.7,1.0],
        [1.1,0.2,0,0,0.5,0.4,1.0,0.3,0,0.3,0.6,0.3,0,0,0,0.3,0.8,0.5,0.3,0.6,0.4,0.3,0.5,2.2,1.0,0.6,3.2,1.4,0.5,0.3,0.4],
        [1.3,0.3,0,0,0.7,0.2,1.3,0.4,0,0.6,1.0,0.4,0,0,0,0.2,0.5,0.3,0.4,0.2,0.5,0.7,0.3,0.6,2.6,1.0,0.4,0.3,0.6,0.9,0.5],
        [1.6,0.4,0,0,0.9,0.4,1.5,0.5,0,0.5,0.8,0.3,0,0,0,0.2,0.6,1.2,0.6,0.3,0.4,0.6,0.8,0.4,0.3,0.5,0.7,1.0,0.5,0.3,0.6],
        [2.2,0.6,0,0,0.6,0.3,3.4,1.2,0,0.3,0.5,0.2,0,0,0,0.1,0.3,0.5,0.2,0.4,0.9,0.6,2.5,3.8,1.5,0.8,0.5,0.3,0.6,0.4,0.5],
        [1.0,0.2,0,0,0.5,1.5,1.8,0.6,0,0.4,0.7,0.3,0,0,0,0.2,0.4,0.3,0.2,0.5,0.3,0.4,0.3,0.5,0.8,0.5,0.4,0.6,1.5,0.8,0.4],
        [1.3,0.3,0,0,0.8,0.4,2.2,0.7,0,0.5,0.9,0.4,0,0,0,0.2,0.5,0.4,0.3,0.6,0.5,0.3,0.7,0.4,0.6,0.8,0.5,1.2,0.7,0.4,0.9],
        [1.7,0.4,0,0,1.2,0.5,1.6,0.5,0,0.6,1.1,0.4,0,0,0,0.3,0.7,0.5,0.4,0.3,0.6,1.0,0.5,0.3,0.4,0.6,0.3,0.4,0.5,0.8,0.6],
        [1.5,0.3,0,0,0.7,0.3,1.4,0.4,0,0.4,0.8,0.3,0,0,0,0.2,0.6,0.3,0.2,0.4,0.3,0.5,0.4,0.3,0.6,0.4,0.8,0.5,0.4,4.0,1.2],
        [1.2,0.2,0,0,0.6,0.3,1.2,0.4,0,0.5,0.7,0.2,0,0,0,0.1,0.3,0.5,0.2,0.3,0.5,0.4,0.2,0.4,0.7,0.5,0.3,0.6,0.4,0.3,0.5],
        [1.4,0.3,0,0,0.8,0.4,1.5,0.5,0,0.4,0.9,0.3,0,0,0,0.2,0.6,0.8,1.8,0.6,0.4,0.5,0.3,0.4,0.3,0.6,0.4,0.5,0.3,0.5,0.4],
        [1.0,0.2,0,0,0.5,0.2,1.1,0.3,0,0.3,0.6,0.2,0,0,0,0.2,0.4,0.3,0.2,0.3,0.6,0.3,0.4,0.6,0.3,0.5,0.7,0.4,2.6,1.0,0.5],
        [1.3,0.3,0,0,3.2,1.0,1.3,0.4,0,0.5,0.8,0.3,0,0,0,0.3,4.0,1.0,0.4,0.3,0.5,0.6,0.4,0.3,0.5,0.8,0.6,0.4,0.5,0.6,0.4],
        [1.6,0.4,0,0,0.9,0.4,1.6,0.5,0,0.4,0.7,0.3,0,0,0,0.2,0.5,0.4,0.3,0.5,0.4,0.6,0.8,0.5,0.4,0.6,0.5,0.7,0.4,0.5,0.6],
        [1.2,0.3,0,0,0.6,0.3,1.2,0.4,0,0.4,0.7,0.2,0,0,0,0.2,0.4,0.6,0.5,0.3,0.4,0.3,0.5,0.7,0.4,0.3,1.6,0.8,0.5,1.0,0.6],
        [1.1,0.2,0,0,0.5,0.3,1.0,0.3,0,0.3,0.6,0.2,0,0,0,0.1,0.3,0.4,0.3,0.2,0.4,0.3,0.2,0.3,0.5,0.4,0.3,0.4,0.6,0.4,0.7],
        [1.4,0.3,0,0,0.7,0.3,1.3,0.4,0,0.5,0.8,0.3,0,0,0,0.2,0.5,0.4,0.3,0.4,0.5,0.4,0.3,0.5,2.0,0.8,0.4,1.2,0.6,0.3,0.4],
        [1.5,0.4,0,0,0.8,0.4,1.5,0.5,0,0.4,0.8,0.3,0,0,0,0.2,0.6,0.5,0.3,0.4,0.3,0.5,0.6,0.4,0.3,0.5,0.6,0.5,0.8,0.5,0.9],
        [1.2,0.3,0,0,0.6,0.3,1.2,0.4,0,0.4,0.7,0.2,0,0,0,0.2,0.4,0.3,0.2,0.4,0.3,0.6,0.4,0.3,0.5,0.4,1.8,0.6,0.4,0.3,0.5],
        [1.3,0.3,0,0,0.7,0.3,1.4,0.4,0,0.5,0.8,0.3,0,0,0,0.2,0.5,0.4,0.3,0.3,0.5,0.4,0.3,0.4,0.5,0.6,0.4,0.7,1.2,2.2,3.6],
        [1.8,0.5,0,0,1.0,0.4,1.7,0.6,0,0.5,0.9,0.3,0,0,0,0.3,0.6,0.5,0.4,0.6,0.5,0.4,0.6,0.5,0.4,0.6,0.5,0.4,0.6,0.5,0.4],
        [1.1,0.2,0,0,0.5,0.3,1.1,0.3,0,0.3,0.6,0.2,0,0,0,0.1,0.3,0.3,0.2,0.3,0.5,1.2,0.6,0.3,0.4,0.3,0.5,0.4,0.3,0.4,0.5],
        [1.4,0.3,0,0,0.7,0.3,1.3,0.4,0,0.4,0.8,0.3,0,0,0,0.2,0.5,0.4,0.3,0.4,0.3,0.4,0.5,0.6,0.4,0.3,0.5,0.6,0.4,0.5,0.3],
        [1.6,0.4,0,0,0.9,0.4,1.6,0.5,0,0.5,0.9,0.3,0,0,0,0.2,0.6,0.5,0.4,0.3,0.4,0.5,0.4,0.6,0.5,0.4,0.3,0.5,0.4,0.6,0.5],
        [1.3,0.3,0,0,0.7,0.3,1.3,0.4,0,0.4,0.7,0.3,0,0,0,0.2,0.4,0.6,0.3,0.9,1.5,0.6,0.4,0.3,0.5,0.4,0.6,0.4,0.3,0.5,0.4],
        [1.5,0.4,0,0,0.8,0.4,1.4,0.5,0,0.5,0.8,0.3,0,0,0,0.2,0.5,0.4,0.3,0.4,0.6,0.5,2.0,7.0,6.4,2.0,0.8,0.5,0.4,0.6,0.5],
        [1.2,0.3,0,0,0.6,0.3,1.2,0.4,0,0.4,0.7,1.2,0,0,0,0.2,0.4,0.3,0.2,0.4,0.5,1.0,0.6,0.4,0.3,0.5,0.4,0.6,0.5,0.4,0.6],
        [1.4,0.3,0,0,0.7,0.3,1.4,0.4,0,0.5,0.8,0.3,0,0,0,0.2,0.5,0.4,0.3,0.5,0.4,0.3,0.4,0.5,0.6,0.4,0.3,0.5,0.4,0.3,0.5],
        [1.3,0.3,0,0,0.6,0.3,1.2,0.4,0,0.4,0.7,0.2,0,0,0,0.2,0.4,0.3,2.8,1.0,0.4,0.3,0.5,0.4,0.3,0.6,0.4,0.3,0.5,0.4,0.3],
        [1.7,0.4,0,0,0.9,0.4,1.6,0.5,0,0.5,0.9,0.3,0,0,0,0.3,0.6,0.5,0.4,0.3,0.5,0.4,0.8,1.5,0.7,0.4,0.6,0.5,0.4,0.6,0.5],
        [1.2,0.3,0,0,0.6,0.3,1.1,0.3,0,0.4,0.7,0.2,0,0,0,3.8,1.2,0.4,0.3,0.2,0.4,0.3,0.5,0.4,0.3,0.5,0.4,0.3,0.5,0.4,0.3],
        [1.4,0.3,0,0,0.7,0.3,1.4,0.4,0,0.5,0.8,0.3,0,0,0,0.2,0.5,3.0,0.8,0.4,0.3,0.5,0.4,0.3,0.5,0.4,0.6,0.4,0.3,0.5,0.4],
        [1.5,0.4,0,0,0.8,2.8,1.5,0.5,0,0.5,0.8,0.3,0,0,0,0.2,0.5,0.4,0.3,0.4,0.5,0.6,0.4,0.5,0.3,0.4,2.5,0.8,0.4,0.5,0.6],
        [1.3,0.3,0,0,0.7,0.3,1.3,0.4,0,0.4,0.7,0.3,0,0,0,0.2,0.4,0.3,0.2,0.3,0.4,0.3,0.4,0.5,0.4,0.3,0.4,0.5,0.4,0.3,0.4],
        [1.6,0.4,0,0,0.9,0.4,1.5,0.5,0,0.5,0.9,0.3,0,0,0,0.2,0.6,0.5,0.4,0.5,0.4,0.6,0.5,0.4,0.6,0.5,0.4,0.6,3.5,0.8,0.5],
        [1.2,0.3,0,0,0.6,0.3,1.2,0.4,0,0.4,0.7,0.2,0,0,0,0.2,0.4,0.3,0.3,0.4,0.6,0.8,0.5,3.5,1.2,0.6,0.4,0.5,0.4,0.3,0.4],
        [1.4,0.3,0,0,0.7,0.3,1.4,0.4,0,0.5,0.8,0.3,0,0,0,0.2,0.5,0.4,0.3,0.4,0.5,0.4,0.3,0.5,0.4,0.6,0.5,0.7,0.6,0.5,4.2],
        [1.5,0.4,0,0,0.8,0.4,1.5,0.5,0,0.4,0.8,0.3,0,0,0,0.2,0.5,0.6,0.4,0.3,0.4,0.5,0.6,0.4,0.5,3.8,1.0,0.5,0.4,0.6,0.5],
        [1.3,0.3,0,0,0.7,0.3,1.3,0.4,0,0.4,0.7,0.3,0,0,0,0.2,0.4,0.3,0.3,1.8,0.8,0.4,0.3,0.5,0.4,0.3,0.5,0.4,0.3,0.4,0.5],
        [1.4,0.3,0,0,0.7,0.3,1.4,0.4,0,0.5,0.8,0.3,0,0,0,0.2,0.5,0.4,0.3,0.4,0.5,0.4,0.5,0.4,0.3,0.5,0.4,0.6,0.5,0.4,0.6],
        [1.5,0.4,0,0,0.8,0.4,1.5,0.5,0,0.5,0.8,0.3,0,0,0,0.2,0.5,0.4,0.3,0.4,0.5,0.6,0.4,0.5,0.6,2.8,0.8,4.2,1.0,0.5,0.4],
        [1.2,0.3,0,0,0.6,0.3,1.2,0.4,0,0.4,0.7,0.2,0,0,0,0.2,0.4,0.3,0.2,0.3,0.4,0.3,0.4,0.3,0.4,0.5,0.4,0.3,0.4,0.5,0.4],
        [1.4,0.3,0,0,0.7,0.3,1.4,0.4,0,0.5,0.8,0.3,0,0,0,0.2,0.5,0.4,0.3,0.4,0.5,0.4,0.3,0.4,0.5,0.4,0.5,0.4,0.3,0.5,0.4],
        [1.3,0.3,0,0,0.7,0.3,1.3,0.4,0,0.4,0.7,0.3,0,0,0,0.2,0.4,0.3,0.2,0.3,0.4,0.5,0.4,0.3,0.4,0.3,0.5,0.4,0.6,0.4,0.3],
        [1.5,0.4,0,0,0.8,0.4,1.5,0.5,0,0.5,0.8,0.3,0,0,0,0.2,0.5,0.4,0.3,0.4,0.3,0.5,0.4,0.6,0.5,0.4,0.3,0.5,0.4,0.6,0.5]
    ];

    const memberColors = ['#c8949c','#d4a0e4','#e0808c','#a0502c','#a8d4f0','#8050b0','#c4c41c','#e0b45c','#80b870','#30c070','#d05080','#c020c0','#e03060','#a8b4e4','#d8e070','#2060c0','#c8cc60','#b0f060','#60a0e0','#b030c8','#c04820','#a0c8a0','#c050e0','#207060','#b01c20',
                          '#c09078','#802878','#503088','#904460','#104c88','#40b888','#30e0e0','#6020d0','#a08848','#80d088','#c0e480','#705020','#e06060','#302870','#40c040','#a8d8c0','#a02040','#e090d0','#6090b0','#9030c0','#20d880','#e0e4a0','#309090','#508030','#7058e0'];

    function series(hours, values, axis, color, width, order) {
        return {
            data: values.map((v, k) => ({x: hours[k], y: v})),
            yAxisID: axis,
            borderColor: color,
            backgroundColor: color,
            borderWidth: width,
            pointRadius: 0,
            order: order
        };
    }

    const datasets = [
        series(hours6, mean850, 'y', '#ff0000', 4, 0),
        series(hours6, mean500, 'y', '#ff0000', 4, 0),
        series(hours6, meanPrecip, 'y2', '#ff0000', 4, 0),
        series(hours6, hres850, 'y', '#000000', 3, 1),
        series(hours6, hres500, 'y', '#000000', 3, 1),
        series(hours6, hresPrecip, 'y2', '#000000', 3, 1),
        series(hours6, ctrl850, 'y', '#0000ff', 3, 2),
        series(hours6, ctrl500, 'y', '#0000ff', 3, 2),
        series(hours6, ctrlPrecip, 'y2', '#0000ff', 3, 2)
    ];

    for (let i = 0; i < 50; i++) {
        [[t850Members, 'y'], [t500Members, 'y'], [precipMembers, 'y2']].forEach(([src, axis]) => {
            const ds = series(hours12, src[i], axis, memberColors[i], 1, 3);
            ds.pointStyle = 'cross';
            ds.pointRadius = 2;
            ds.pointBorderWidth = 1;
            datasets.push(ds);
        });
    }

    const numFont = {family: 'Liberation Sans', size: 10};

    new Chart(document.getElementById('c'), {
        type: 'line',
        data: { datasets: datasets },
        options: {
            responsive: false,
            animation: false,
            devicePixelRatio: 1,
            layout: { padding: { left: 20, right: 0, top: 0, bottom: 0 } },
            plugins: { legend: { display: false }, tooltip: { enabled: false } },
            elements: { line: { tension: 0 } },
            scales: {
                x: {
                    type: 'linear', min: 0, max: 360,
                    border: { display: false },
                    grid: { color: '#c0c0c0', lineWidth: 1, drawTicks: false },
                    ticks: {
                        stepSize: 24, autoSkip: false, maxRotation: 90, minRotation: 90, padding: 2, color: '#000',
                        font: { family: 'DejaVu Sans Mono', size: 10, lineHeight: 1.6 },
                        callback: v => dateLabels[Math.round(v / 24)]
                    },
                    afterFit: s => { s.height = 100; s.paddingLeft = 0; s.paddingRight = 0; }
                },
                y: {
                    position: 'left', min: -52.45, max: 33,
                    border: { display: false },
                    grid: {
                        drawTicks: false,
                        color: c => (c.tick && c.tick.value === 0) ? '#a0a0a0' : '#c0c0c0',
                        lineWidth: c => !c.tick ? 1 : (c.tick.value === 0 ? 3 : (c.tick.value % 10 === 0 ? 2 : 1))
                    },
                    ticks: {
                        stepSize: 5, includeBounds: false, crossAlign: 'far', padding: 0, color: '#000', font: numFont,
                        callback: v => v < -45 ? null : String(v)
                    },
                    afterFit: s => { s.width = 30; s.paddingTop = 0; s.paddingBottom = 0; }
                },
                y2: {
                    position: 'right', min: -7.45, max: 78,
                    border: { display: false },
                    grid: { display: false, drawTicks: false },
                    ticks: {
                        stepSize: 5, includeBounds: false, padding: 19, color: '#000', font: numFont,
                        callback: v => v < 0 ? null : String(v)
                    },
                    afterFit: s => { s.width = 49; s.paddingTop = 0; s.paddingBottom = 0; }
                }
            }
        }
    });

    // member colour key under the chart
    const sw = document.getElementById('swatches');
    for (let i = 0; i < 50; i++) {
        const col = i % 25, row = Math.floor(i / 25);
        const x = 430 + col * 11;
        const n = document.createElement('div');
        n.className = 'num';
        n.style.left = (x - 0.5) + 'px';
        n.style.top = (row === 0 ? 635 : 657) + 'px';
        n.textContent = String(i + 1).padStart(2, '0');
        sw.appendChild(n);
        const b = document.createElement('div');
        b.className = 'sw';
        b.style.left = x + 'px';
        b.style.top = (row === 0 ? 645 : 651) + 'px';
        b.style.background = memberColors[i];
        sw.appendChild(b);
    }
</script>
</body>
</html>
